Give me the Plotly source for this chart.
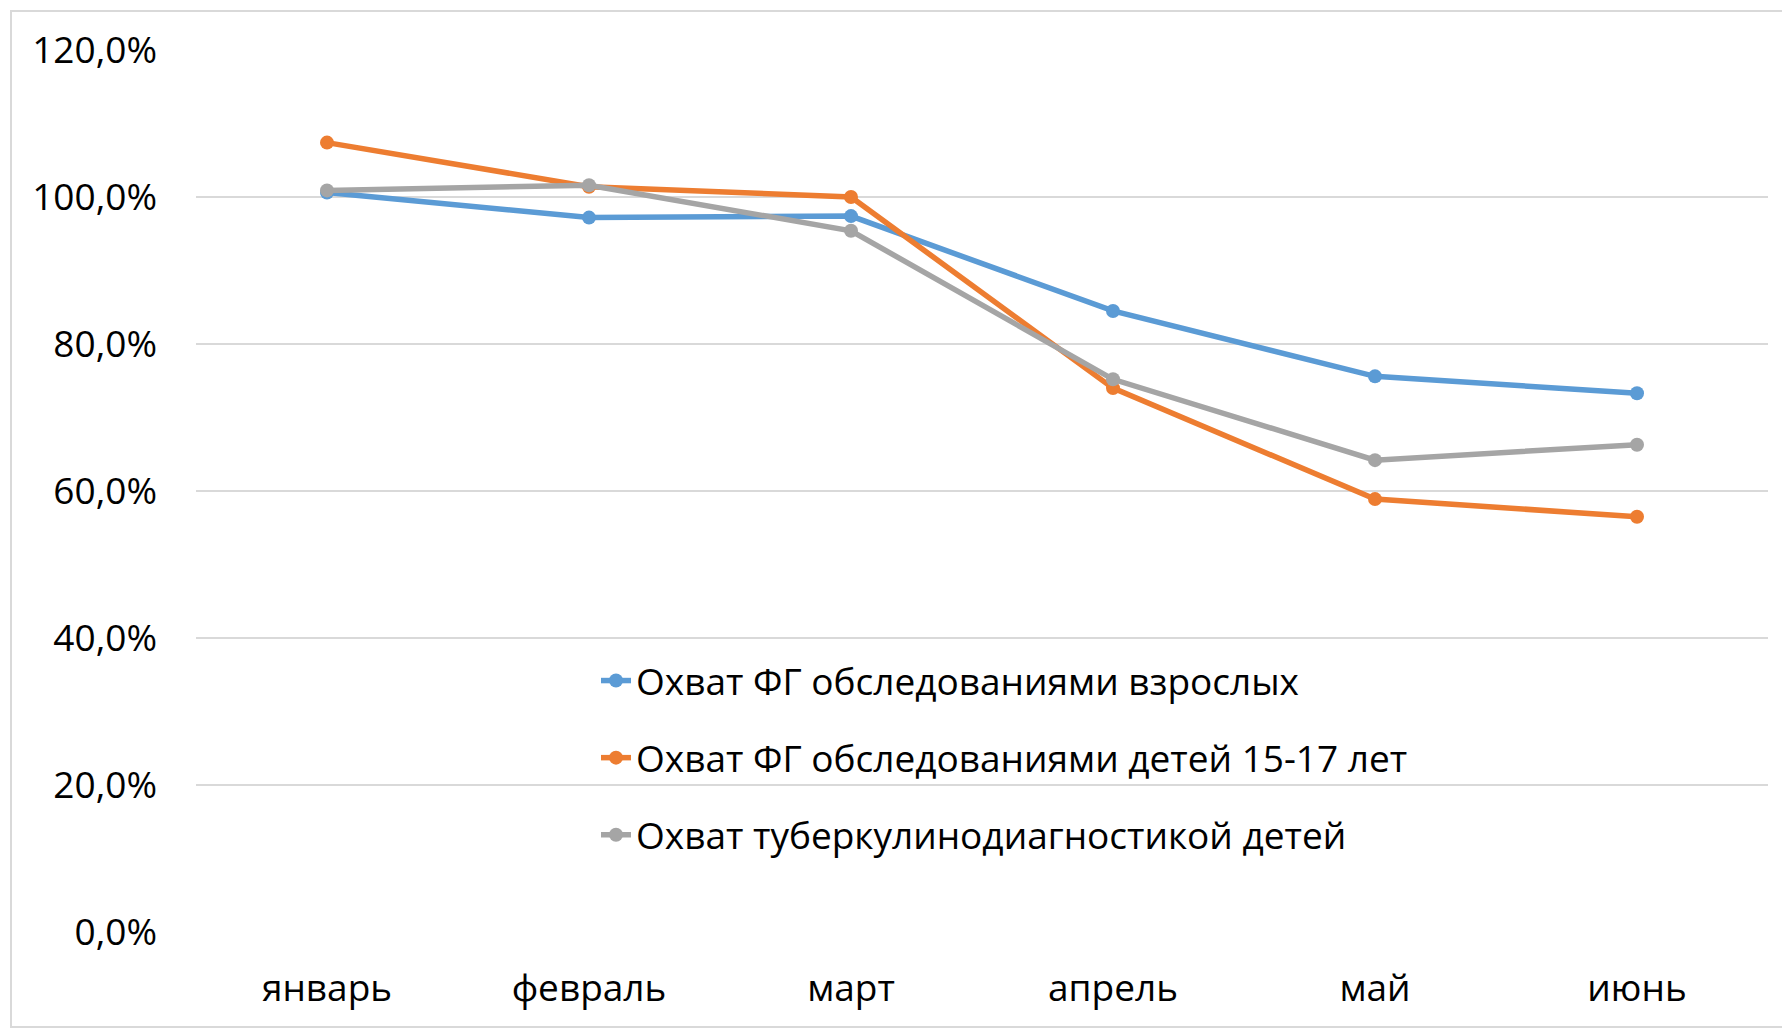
import plotly.graph_objects as go

months = ["январь", "февраль", "март", "апрель", "май", "июнь"]
adults = [100.6, 97.2, 97.4, 84.5, 75.6, 73.3]
teens = [107.4, 101.4, 100.0, 74.0, 58.9, 56.5]
tubercul = [100.9, 101.6, 95.4, 75.2, 64.2, 66.3]

names = [
    "Охват ФГ обследованиями взрослых",
    "Охват ФГ обследованиями детей 15-17 лет",
    "Охват туберкулинодиагностикой детей",
]
colors = ["#5B9BD5", "#ED7D31", "#A5A5A5"]
series = [adults, teens, tubercul]

# page has an 8px body margin; figure sized to fit the 1790x1028 window
W, H = 1782, 1020
L, R, T, B = 188, 22, 42, 96

fig = go.Figure()
for i, (nm, col, vals) in enumerate(zip(names, colors, series)):
    fig.add_trace(go.Scatter(
        x=months, y=vals, name=nm, mode="lines+markers",
        line=dict(color=col, width=5.5),
        marker=dict(color=col, size=14),
        legendgroup=f"g{i}",
    ))

pw = W - L - R
ph = H - T - B
fig.update_layout(
    width=W, height=H,
    margin=dict(l=L, r=R, t=T, b=B),
    paper_bgcolor="white", plot_bgcolor="white",
    font=dict(family="Open Sans", size=37, color="black"),
    separators=", ",
    showlegend=True,
    legend=dict(
        x=(588 - L) / pw, xanchor="left",
        y=(H - B - 642) / ph, yanchor="top",
        bgcolor="rgba(0,0,0,0)",
        font=dict(size=37),
        traceorder="grouped",
        tracegroupgap=26,
        itemwidth=30,
    ),
    xaxis=dict(
        range=[-0.5, 5.5],
        showgrid=False, zeroline=False, showline=False,
        ticks="", ticklabelstandoff=31,
        tickfont=dict(size=37),
    ),
    yaxis=dict(
        range=[0, 120], dtick=20, tick0=0,
        tickformat=".1f", ticksuffix="%",
        showgrid=True, gridcolor="#D9D9D9", gridwidth=2,
        zeroline=False, showline=False, ticks="",
        ticklabelstandoff=38,
        tickfont=dict(size=37),
    ),
    shapes=[dict(
        type="rect", xref="paper", yref="paper",
        x0=(3 - L) / pw, x1=(W + 60 - L) / pw,
        y0=(H - B - 1019) / ph, y1=(H - B - 3) / ph,
        line=dict(color="#D9D9D9", width=2), fillcolor="rgba(0,0,0,0)",
        layer="below",
    )],
)

fig.write_html("out.html")
